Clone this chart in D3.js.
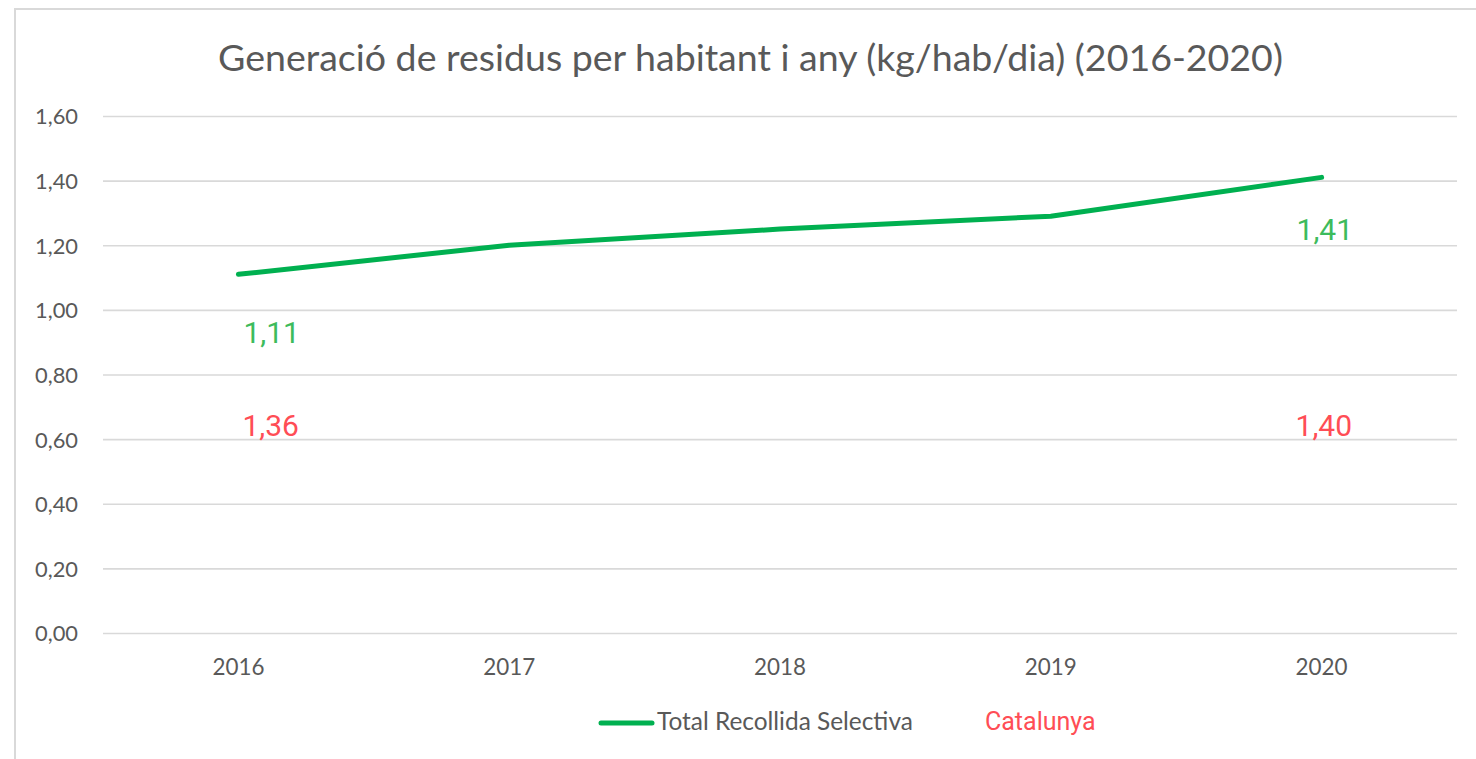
<!DOCTYPE html>
<html><head><meta charset="utf-8">
<script src="https://cdn.jsdelivr.net/npm/d3@7"></script>
<style>html,body{margin:0;padding:0;background:#fff;}svg{display:block;}</style>
</head><body>
<svg id="c" width="1476" height="759"></svg>
<script>
const years = ["2016","2017","2018","2019","2020"];
const recollida = [1.11, 1.20, 1.25, 1.29, 1.41];
const yTicks = [0, 0.2, 0.4, 0.6, 0.8, 1.0, 1.2, 1.4, 1.6];
const greenLabels = [{year:"2016", text:"1,11"}, {year:"2020", text:"1,41"}];
const catalunyaLabels = [{year:"2016", text:"1,36"}, {year:"2020", text:"1,40"}];
const title = "Generació de residus per habitant i any (kg/hab/dia) (2016-2020)";
const seriesName = "Total Recollida Selectiva";
const refName = "Catalunya";

(function(){
const svg = d3.select("#c");
const W = 1476, H = 759;
const mLeft = 103, mRight = 1457, mTop = 116, mBottom = 633;
const green = "#00b050", gray = "#595959", grid = "#d9d9d9";
const labelGreen = "#3dbb5c", labelRed = "#ff4d55";

function fit(sel, target){
  const w = sel.node().getComputedTextLength();
  const fs = parseFloat(sel.attr("font-size"));
  sel.attr("font-size", fs * target / w);
}

svg.append("path").attr("d", `M15,${H} L15,9 L${W},9`).attr("fill","none").attr("stroke","#d9d9d9").attr("stroke-width",2);

const x = d3.scaleBand().domain(years).range([mLeft, mRight]);
const y = d3.scaleLinear().domain([0, 1.6]).range([mBottom, mTop]);

const yAxis = d3.axisLeft(y).tickValues(yTicks).tickSize(-(mRight-mLeft)).tickPadding(25)
  .tickFormat(d => d3.format(".2f")(d).replace(".", ","));
const gy = svg.append("g").attr("transform", `translate(${mLeft},0)`).call(yAxis);
gy.select(".domain").remove();
gy.selectAll(".tick line").attr("stroke", grid).attr("stroke-width", 1.6);
gy.selectAll(".tick text").attr("fill", gray).attr("font-family","Lato").attr("font-size",18).attr("dy","0.36em");
gy.selectAll(".tick text").each(function(){ fit(d3.select(this), 43); });

const xAxis = d3.axisBottom(x).tickSize(0).tickPadding(26);
const gx = svg.append("g").attr("transform", `translate(0,${mBottom})`).call(xAxis);
gx.select(".domain").remove();
gx.selectAll(".tick text").attr("fill", gray).attr("font-family","Lato").attr("font-size",18);
gx.selectAll(".tick text").each(function(){ fit(d3.select(this), 52); });

const line = d3.line().x((d,i)=>x(years[i])+x.bandwidth()/2).y(d=>y(d));
svg.append("path").datum(recollida).attr("d", line).attr("fill","none")
  .attr("stroke", green).attr("stroke-width",5).attr("stroke-linecap","round").attr("stroke-linejoin","round");

const t = svg.append("text").attr("x", 750.5).attr("y", 71).attr("text-anchor","middle")
  .attr("font-family","Lato").attr("font-size",34).attr("fill", gray).text(title);
fit(t, 1065);

const gdx = {"2016": 5, "2020": -25};
const gdy = {"2016": 69, "2020": 63};
greenLabels.forEach(l => {
  const i = years.indexOf(l.year);
  svg.append("text").attr("x", x(l.year)+x.bandwidth()/2 + gdx[l.year])
    .attr("y", y(recollida[i]) + gdy[l.year]).attr("font-family","Roboto").attr("font-size",30)
    .attr("fill", labelGreen).text(l.text);
});
catalunyaLabels.forEach(l => {
  svg.append("text").attr("x", x(l.year)+x.bandwidth()/2 + gdx[l.year] - 1)
    .attr("y", y(0.6) - 3).attr("font-family","Roboto").attr("font-size",30)
    .attr("fill", labelRed).text(l.text);
});

svg.append("line").attr("x1",601).attr("x2",652).attr("y1",723).attr("y2",723)
  .attr("stroke", green).attr("stroke-width",5).attr("stroke-linecap","round");
const lt = svg.append("text").attr("x",657).attr("y",730).attr("font-family","Lato")
  .attr("font-size",20).attr("fill", gray).text(seriesName);
fit(lt, 256);
svg.append("text").attr("x",985).attr("y",730).attr("font-family","Roboto")
  .attr("font-size",25).attr("fill", labelRed).text(refName);
})();
</script>
</body></html>
